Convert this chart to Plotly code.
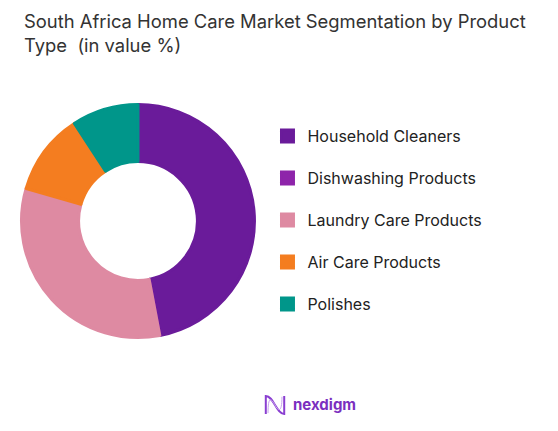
import plotly.graph_objects as go

TITLE = "South Africa Home Care Market Segmentation by Product<br>Type  (in value %)"

segments = [
    "Household Cleaners",
    "Dishwashing Products",
    "Laundry Care Products",
    "Air Care Products",
    "Polishes",
]
shares = [47, 0, 32.5, 11.3, 9.2]
colors = ["#6a1b9a", "#8e24aa", "#de8aa2", "#f47d20", "#00968a"]

FONT = "Inter, Lato, sans-serif"

# the page body adds an 8px offset, positions below allow for it
fig = go.Figure(
    go.Pie(
        labels=[
            f'<span style="font-size:4px"> </span><br><span style="font-size:16px">{s}</span>'
            for s in segments
        ],
        values=shares,
        hole=0.51,
        sort=False,
        direction="clockwise",
        rotation=0,
        # same-colour outline: widens the legend swatches
        marker=dict(colors=colors, line=dict(width=3, color=colors)),
        textinfo="none",
        hoverinfo="percent",
        domain=dict(x=[0.0242, 0.4417], y=[0.2355, 0.7761]),
        showlegend=True,
    )
)

fig.update_layout(
    width=558,
    height=431,
    margin=dict(l=0, r=0, t=0, b=0),
    paper_bgcolor="white",
    plot_bgcolor="white",
    font=dict(family=FONT, color="#333333"),
    legend=dict(
        x=0.465,
        xanchor="left",
        y=0.786,
        yanchor="top",
        valign="bottom",
        font=dict(size=15, color="#222222", family=FONT),
        bgcolor="rgba(0,0,0,0)",
    ),
)

fig.add_annotation(
    text=TITLE,
    x=0.025, y=1.0, xref="paper", yref="paper",
    xanchor="left", yanchor="top", align="left", showarrow=False,
    font=dict(size=18.4, color="#333333", family=FONT),
)

# brand mark at the bottom
fig.add_annotation(
    text="<b>nexdigm</b>",
    x=0.507, y=0.079, xref="paper", yref="paper",
    xanchor="left", yanchor="middle", showarrow=False,
    font=dict(size=15, color="#7b2fbf", family=FONT),
)
fig.add_shape(
    type="path",
    path="M 0.462,0.058 L 0.462,0.100 C 0.476,0.100 0.481,0.058 0.495,0.058 L 0.495,0.100",
    xref="paper", yref="paper",
    line=dict(color="#8a3fd1", width=2),
)
fig.add_shape(
    type="path",
    path="M 0.466,0.060 C 0.466,0.095 0.470,0.098 0.478,0.080 C 0.485,0.062 0.491,0.062 0.491,0.098",
    xref="paper", yref="paper",
    line=dict(color="#c9a4ef", width=1),
)

fig.write_html("out.html")
